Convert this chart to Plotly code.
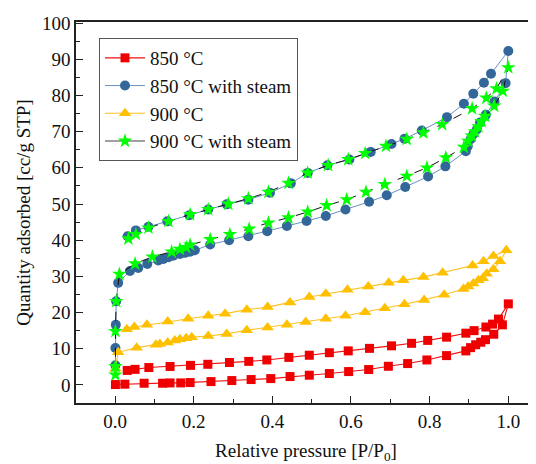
import plotly.graph_objects as go

# ---- data ----
# 850 °C
p850_ads = [0.001, 0.025, 0.074, 0.121, 0.140, 0.167, 0.191, 0.244, 0.297, 0.346, 0.396, 0.445, 0.494, 0.545,
            0.594, 0.645, 0.695, 0.744, 0.793, 0.843, 0.892, 0.904, 0.917, 0.930, 0.942, 0.963, 0.985, 1.0]
q850_ads = [0.1, 0.2, 0.46, 0.46, 0.55, 0.55, 0.65, 0.92, 1.2, 1.48, 1.75, 2.31, 2.68, 3.14,
            3.69, 4.25, 5.15, 5.9, 6.9, 8.1, 9.4, 10.3, 11.1, 11.8, 12.5, 14.0, 16.6, 22.4]
p850_des = [0.975, 0.960, 0.943, 0.913, 0.892, 0.843, 0.795, 0.754, 0.703, 0.647, 0.593, 0.545, 0.494, 0.442,
            0.386, 0.340, 0.291, 0.236, 0.192, 0.140, 0.086, 0.051, 0.031]
q850_des = [18.2, 16.8, 16.0, 15.0, 14.3, 13.2, 12.3, 11.5, 10.8, 10.1, 9.4, 8.9, 8.2, 7.6,
            6.9, 6.5, 6.2, 5.7, 5.4, 5.1, 4.8, 4.3, 4.0]

# 850 °C with steam
p850s_ads = [0.001, 0.001, 0.002, 0.003, 0.008, 0.038, 0.059, 0.082, 0.110, 0.123, 0.136, 0.148, 0.165, 0.178,
             0.191, 0.203, 0.242, 0.290, 0.339, 0.387, 0.437, 0.487, 0.536, 0.586, 0.646, 0.691, 0.738, 0.796,
             0.840, 0.892, 0.897, 0.904, 0.911, 0.920, 0.928, 0.943, 0.965, 0.993, 1.0]
q850s_ads = [5.4, 10.2, 16.6, 23.1, 28.2, 31.5, 32.3, 33.4, 34.4, 34.8, 35.3, 35.7, 36.2, 36.5,
             36.8, 37.2, 38.8, 40.0, 41.1, 42.5, 43.9, 45.3, 46.7, 48.5, 50.6, 52.4, 54.7, 57.6,
             60.4, 64.6, 66.0, 67.9, 69.3, 70.6, 72.5, 74.7, 78.3, 83.4, 92.3]
p850s_des = [0.956, 0.938, 0.911, 0.887, 0.844, 0.780, 0.736, 0.703, 0.650, 0.596, 0.540, 0.490, 0.447, 0.394,
             0.339, 0.284, 0.237, 0.189, 0.133, 0.085, 0.053, 0.032]
q850s_des = [86.0, 83.5, 80.5, 77.7, 74.0, 70.3, 68.0, 66.6, 64.4, 62.3, 60.7, 58.6, 55.7, 53.1,
             51.2, 49.9, 48.5, 46.9, 45.2, 43.7, 42.7, 41.1]

# 900 °C
p900_ads = [0.001, 0.008, 0.055, 0.104, 0.114, 0.134, 0.152, 0.165, 0.181, 0.195, 0.237, 0.284, 0.335, 0.388,
            0.437, 0.485, 0.536, 0.586, 0.636, 0.686, 0.736, 0.786, 0.837, 0.886, 0.898, 0.911, 0.924, 0.935,
            0.945, 0.962, 0.979, 0.995]
q900_ads = [4.5, 9.0, 10.3, 11.1, 11.3, 11.7, 12.3, 12.6, 12.9, 13.2, 13.5, 14.1, 15.1, 15.9,
            16.6, 17.4, 18.3, 19.1, 20.1, 21.2, 22.3, 23.5, 24.9, 26.5, 27.2, 28.0, 28.9, 29.5,
            30.7, 32.0, 34.2, 37.2]
p900_des = [0.962, 0.937, 0.909, 0.833, 0.784, 0.733, 0.696, 0.644, 0.591, 0.536, 0.494, 0.445, 0.388, 0.335,
            0.280, 0.237, 0.186, 0.134, 0.081, 0.049, 0.030]
q900_des = [35.6, 34.2, 33.0, 31.0, 29.8, 28.9, 28.2, 27.2, 26.3, 25.2, 24.3, 22.8, 21.5, 20.8,
            19.7, 19.1, 18.3, 17.5, 16.6, 16.0, 15.4]

# 900 °C with steam
p900s_ads = [0.001, 0.001, 0.001, 0.003, 0.011, 0.051, 0.095, 0.144, 0.165, 0.181, 0.191, 0.242, 0.292, 0.341,
             0.390, 0.441, 0.490, 0.538, 0.589, 0.638, 0.686, 0.742, 0.793, 0.841, 0.887, 0.898, 0.907, 0.915,
             0.924, 0.932, 0.941, 0.964, 0.986, 1.0]
q900s_ads = [2.8, 5.1, 14.8, 23.1, 30.6, 33.5, 35.4, 36.8, 37.5, 38.0, 38.7, 40.2, 41.6, 43.1,
             44.8, 46.2, 47.8, 49.6, 51.2, 53.3, 55.4, 57.7, 60.0, 62.8, 65.7, 67.4, 68.8, 70.0,
             71.4, 72.8, 74.3, 77.1, 81.2, 87.7]
p900s_des = [0.970, 0.944, 0.908, 0.832, 0.784, 0.742, 0.689, 0.636, 0.593, 0.542, 0.490, 0.441, 0.390, 0.339,
             0.288, 0.237, 0.191, 0.136, 0.085, 0.053, 0.034]
q900s_des = [81.9, 79.3, 76.4, 72.0, 69.7, 67.9, 66.0, 64.0, 62.3, 60.7, 58.6, 55.8, 53.3, 51.5,
             50.0, 48.5, 47.1, 45.2, 43.4, 41.6, 40.4]

series_names = ["850 °C", "850 °C with steam", "900 °C", "900 °C with steam"]
x_ticks = [0.0, 0.2, 0.4, 0.6, 0.8, 1.0]
x_ticktext = ["0.0", "0.2", "0.4", "0.6", "0.8", "1.0"]
y_ticks = [0, 10, 20, 30, 40, 50, 60, 70, 80, 90, 100]

FONT = "Liberation Serif"
INK = "#111111"

fig = go.Figure()

fig.add_trace(go.Scatter(
    x=p850_ads + p850_des, y=q850_ads + q850_des, mode="lines+markers", name=series_names[0],
    line=dict(color="#f01010", width=1.1),
    marker=dict(symbol="square", size=9, color="#ee0000", line=dict(width=0))))

fig.add_trace(go.Scatter(
    x=p850s_ads + p850s_des, y=q850s_ads + q850s_des, mode="lines+markers", name=series_names[1],
    line=dict(color="#6890c0", width=1.0),
    marker=dict(symbol="circle", size=10, color="#336699", line=dict(width=0))))

fig.add_trace(go.Scatter(
    x=p900_ads + p900_des, y=q900_ads + q900_des, mode="lines+markers", name=series_names[2],
    line=dict(color="#ffc020", width=1.1),
    marker=dict(symbol="triangle-up", size=11, color="#ffc000", line=dict(width=0))))

fig.add_trace(go.Scatter(
    x=p900s_ads + p900s_des, y=q900s_ads + q900s_des, mode="lines+markers", name=series_names[3],
    showlegend=False,
    line=dict(color="#111111", width=1.0, dash="dash"),
    marker=dict(symbol="star", size=11, color="#00ff00", line=dict(width=0))))

# legend entry for the last series (grey solid line in the reference legend)
fig.add_trace(go.Scatter(
    x=[None], y=[None], mode="lines+markers", name=series_names[3],
    line=dict(color="#808080", width=1.5),
    marker=dict(symbol="star", size=11, color="#00ff00", line=dict(width=0))))

# the page body has an 8 px default margin, so the figure is made 8 px smaller
fig.update_layout(
    width=528, height=456,
    margin=dict(l=68, r=0, t=14, b=61),
    paper_bgcolor="white", plot_bgcolor="white",
    font=dict(family=FONT, size=18, color=INK),
    showlegend=True,
    legend=dict(x=0.05, y=0.958, xanchor="left", yanchor="top",
                bgcolor="white", bordercolor="#555555", borderwidth=1,
                font=dict(family=FONT, size=19, color=INK),
                itemwidth=40,
                tracegroupgap=0, itemsizing="trace"),
    xaxis=dict(
        range=[-0.0992, 1.0704], tickvals=x_ticks, ticktext=x_ticktext,
        automargin=False,
        showline=True, linecolor="#222222", linewidth=1.5, mirror=True,
        ticks="inside", ticklen=7, tickwidth=1.2, tickcolor="#222222",
        minor=dict(dtick=0.1, tick0=0, ticks="inside", ticklen=4, tickwidth=1.2, tickcolor="#222222"),
        showgrid=False, zeroline=False,
        tickfont=dict(family=FONT, size=19, color=INK),
        title=dict(text="Relative pressure [P/P<sub>0</sub>]", standoff=16,
                   font=dict(family=FONT, size=19, color=INK))),
    yaxis=dict(
        range=[-5, 100.3], tickvals=y_ticks,
        automargin=False,
        showline=True, linecolor="#222222", linewidth=1.5, mirror=False,
        ticks="inside", ticklen=7, tickwidth=1.2, tickcolor="#222222",
        minor=dict(dtick=5, tick0=0, ticks="inside", ticklen=4, tickwidth=1.2, tickcolor="#222222"),
        showgrid=False, zeroline=False,
        tickfont=dict(family=FONT, size=19, color=INK),
        title=dict(text="Quantity adsorbed [cc/g STP]", standoff=6,
                   font=dict(family=FONT, size=19, color=INK))),
)

fig.write_html("out.html")
